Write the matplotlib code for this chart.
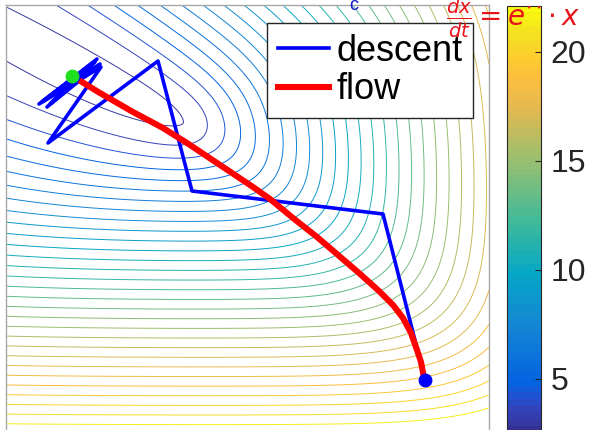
import numpy as np
import matplotlib.pyplot as plt
from matplotlib.colors import LinearSegmentedColormap, Normalize
from matplotlib.cm import ScalarMappable

plt.rcParams['font.family'] = ['Liberation Sans', 'DejaVu Sans']

# MATLAB parula, a few anchors out of its 64 entries
parula_idx = [0, 2, 4, 6, 8, 16, 24, 32, 40, 48, 53, 56, 60, 63]
parula_rgb = [(0.2081, 0.1663, 0.5292), (0.2123, 0.2138, 0.6270),
              (0.1959, 0.2645, 0.7279), (0.1253, 0.3242, 0.8303),
              (0.0117, 0.3875, 0.8820), (0.0793, 0.5200, 0.8312),
              (0.0228, 0.6535, 0.7768), (0.2586, 0.7317, 0.5954),
              (0.5709, 0.7485, 0.4494), (0.8824, 0.7274, 0.3217),
              (0.9938, 0.7455, 0.2403), (0.9880, 0.8066, 0.1794),
              (0.9589, 0.8949, 0.1132), (0.9763, 0.9831, 0.0538)]

# objective: smooth max of four planes (slope x, slope y, offset); y grows downward
plane_gx = [2.96, -1.10, 5.20, 0.00]
plane_gy = [-4.25, 2.20, 0.00, 6.69]
plane_c = [1.41, 1.01, -8.20, -6.64]
sharp_centre = (1.8, 1.2)   # smoothing is tight here and loosens further out
sharp_k0, sharp_kr = 1.0, 0.6
z_min, z_max = 2.2, 22.1
n_levels = 30
x_range = (0.0, 4.83)
y_range = (0.0, 4.35)

# gradient descent iterates
descent_x = [4.19, 3.77, 1.86, 1.52, 0.42, 0.95, 0.33, 0.91, 0.41, 0.94, 0.37,
             0.89, 0.45, 0.84, 0.52, 0.76, 0.60, 0.68]
descent_y = [3.75, 2.09, 1.86, 0.56, 1.38, 0.62, 0.99, 0.54, 1.02, 0.59, 0.96,
             0.57, 0.98, 0.61, 0.91, 0.67, 0.83, 0.75]
# gradient flow trajectory
flow_x = [4.18, 4.15, 4.11, 4.05, 3.97, 3.87, 3.73, 3.53, 3.32, 3.11, 2.87,
          2.64, 2.47, 2.14, 1.81, 1.57, 1.27, 0.94, 0.76]
flow_y = [3.73, 3.57, 3.45, 3.28, 3.13, 3.00, 2.86, 2.68, 2.50, 2.32, 2.13,
          1.94, 1.82, 1.60, 1.38, 1.23, 1.07, 0.88, 0.77]
start_pt = (4.19, 3.75)
optimum = (0.66, 0.71)
cbar_ticks = [5, 10, 15, 20]

cmap = LinearSegmentedColormap.from_list(
    'parula', [(i / 63, c) for i, c in zip(parula_idx, parula_rgb)], N=64)
norm = Normalize(z_min, z_max)

xs = np.linspace(*x_range, 400)
ys = np.linspace(*y_range, 400)
X, Y = np.meshgrid(xs, ys)
T = np.stack([gx * X + gy * Y + c for gx, gy, c in zip(plane_gx, plane_gy, plane_c)])
Tm = T.max(axis=0)
K = sharp_k0 / (1 + sharp_kr * np.hypot(X - sharp_centre[0], Y - sharp_centre[1]))
Z = Tm + np.log(np.exp(K * (T - Tm)).sum(axis=0)) / K

levels = np.linspace(z_min, z_max, n_levels + 2)[1:-1]

fig = plt.figure(figsize=(5.94, 4.30), dpi=100)
ax = fig.add_axes([6 / 594, -10 / 430, 483 / 594, 435 / 430])
ax.contour(X, Y, Z, levels=levels, cmap=cmap, norm=norm, linewidths=0.7)

ax.plot(descent_x, descent_y, color='#0000ff', lw=2.6, label='descent')
ax.plot(flow_x, flow_y, color='#ff0000', lw=4.4, label='flow')
ax.plot(*start_pt, 'o', color='#0000ff', ms=9)
ax.plot(*optimum, 'o', color='#1fe01f', ms=9)

ax.set_xlim(*x_range)
ax.set_ylim(y_range[1], y_range[0])
ax.set_xticks([])
ax.set_yticks([])
for s in ax.spines.values():
    s.set_color('#a8a8a8')
    s.set_linewidth(1.0)

leg = ax.legend(loc='upper right', bbox_to_anchor=(473 / 594, 1 - 23 / 430),
                bbox_transform=fig.transFigure, fontsize=26, handlelength=1.4,
                handletextpad=0.2, borderpad=0.3, labelspacing=0.1,
                borderaxespad=0, fancybox=False, framealpha=1,
                edgecolor='#262626')
leg.get_frame().set_linewidth(1.0)

cax = fig.add_axes([507 / 594, -10 / 430, 34 / 594, 434.3 / 430])
cb = fig.colorbar(ScalarMappable(norm=norm, cmap=cmap), cax=cax, ticks=cbar_ticks)
cb.outline.set_edgecolor('#262626')
cb.outline.set_linewidth(0.8)
cax.tick_params(direction='in', length=4, width=0.8, labelsize=23,
                colors='#262626', pad=7)

# handwritten notes on top of the screenshot
fig.text(446 / 594, 1 - 18 / 430, r'$\frac{dx}{dt}=e^{\cdot\cdot}\!\cdot x$',
         color='#e8141c', fontsize=20, ha='left', va='center')
fig.text(354 / 594, 1 - 5 / 430, 'c', color='#1010c8', fontsize=13,
         ha='center', va='center')

fig.savefig('out.png', dpi=100)
